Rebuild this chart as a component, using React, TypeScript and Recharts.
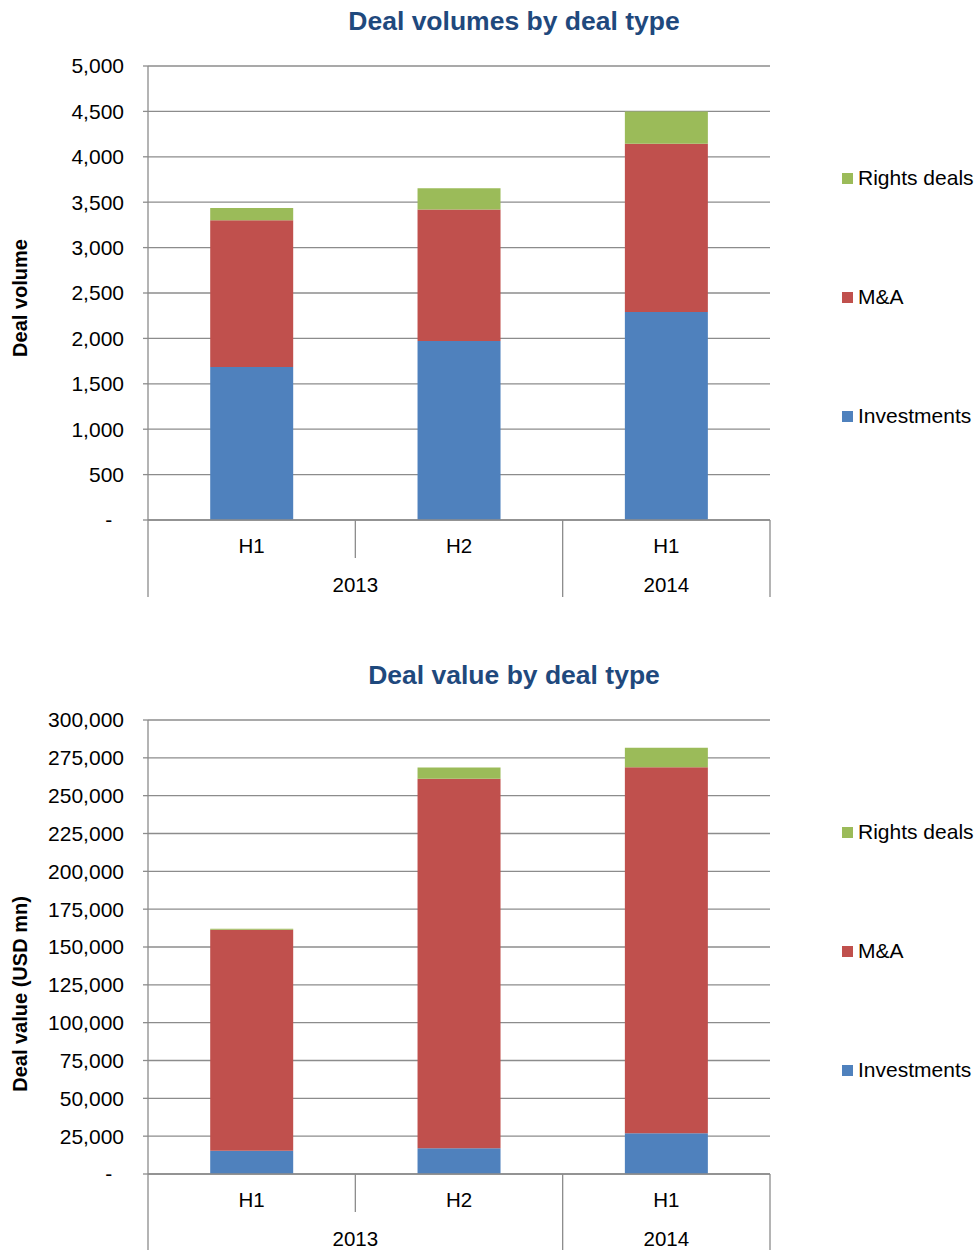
import React from 'react';
import { BarChart, Bar, XAxis, YAxis, CartesianGrid } from 'recharts';

const HALVES = ['H1', 'H2', 'H1'];
const YEARS = ['2013', '2013', '2014'];

const VOL_INVESTMENTS = [1684, 1972, 2291];
const VOL_MA = [1616, 1447, 1853];
const VOL_RIGHTS = [135, 236, 355];

const VAL_INVESTMENTS = [15300, 16950, 26900];
const VAL_MA = [146050, 244270, 241950];
const VAL_RIGHTS = [700, 7430, 12770];

const VOL_TICKS = [0, 500, 1000, 1500, 2000, 2500, 3000, 3500, 4000, 4500, 5000];
const VAL_TICKS = [0, 25000, 50000, 75000, 100000, 125000, 150000, 175000, 200000, 225000, 250000, 275000, 300000];

const SERIES = [
  { key: 'investments', name: 'Investments', color: '#4F81BD' },
  { key: 'ma', name: 'M&A', color: '#C0504D' },
  { key: 'rights', name: 'Rights deals', color: '#9BBB59' },
];

const FONT = '"Liberation Sans", Arial, sans-serif';
const GRID = '#8c8c8c';

// chart geometry (same for both charts)
const W = 979;
const H = 600;
const Y_AXIS_W = 148;
const RIGHT = 209;
const TOP = 66;
const X_AXIS_H = 77;
const PLOT_W = W - Y_AXIS_W - RIGHT;
const AXIS_Y = H - 3 - X_AXIS_H;

const buildRows = (inv: number[], ma: number[], rights: number[]) =>
  HALVES.map((h, i) => ({
    key: `${YEARS[i]}-${h}`,
    investments: inv[i],
    ma: ma[i],
    rights: rights[i],
  }));

const volumeRows = buildRows(VOL_INVESTMENTS, VOL_MA, VOL_RIGHTS);
const valueRows = buildRows(VAL_INVESTMENTS, VAL_MA, VAL_RIGHTS);

// excel accounting style: zero shown as a dash
const fmt = (v: number) => (v === 0 ? '-\u00A0\u00A0' : v.toLocaleString('en-US'));

const CategoryTick = (props: any) => {
  const { x, index } = props;
  const band = PLOT_W / HALVES.length;
  const left = x - band / 2;
  const newGroup = index === 0 || YEARS[index] !== YEARS[index - 1];
  const count = YEARS.filter((y) => y === YEARS[index]).length;
  const last = index === HALVES.length - 1;
  return (
    <g>
      <line x1={left} x2={left} y1={AXIS_Y} y2={AXIS_Y + (newGroup ? 77 : 38)} stroke={GRID} strokeWidth={1.3} />
      {last && <line x1={left + band} x2={left + band} y1={AXIS_Y} y2={AXIS_Y + 77} stroke={GRID} strokeWidth={1.3} />}
      <text x={x} y={AXIS_Y + 25} textAnchor="middle" dominantBaseline="central" fontSize={20.5} fontFamily={FONT} fill="#000">
        {HALVES[index]}
      </text>
      {newGroup && (
        <text x={left + (count * band) / 2} y={AXIS_Y + 64} textAnchor="middle" dominantBaseline="central" fontSize={20.5} fontFamily={FONT} fill="#000">
          {YEARS[index]}
        </text>
      )}
    </g>
  );
};

const StackedChart = ({ rows, ticks, title, yLabel, labelY, top }: any) => (
  <div style={{ position: 'absolute', left: 0, top, width: W, height: H }}>
    <div style={{ position: 'absolute', left: 214, top: 5, width: 600, textAlign: 'center', fontFamily: FONT, fontWeight: 'bold', fontSize: 26.5, color: '#1F497D', lineHeight: '32px' }}>
      {title}
    </div>
    <div style={{ position: 'absolute', left: 20, top: labelY, width: 0, height: 0 }}>
      <div style={{ position: 'absolute', transform: 'translate(-50%, -50%) rotate(-90deg)', whiteSpace: 'nowrap', fontFamily: FONT, fontWeight: 'bold', fontSize: 20 }}>
        {yLabel}
      </div>
    </div>
    <BarChart width={W} height={H} data={rows} margin={{ top: TOP, right: RIGHT, left: 0, bottom: 3 }} barCategoryGap="30%">
      <CartesianGrid vertical={false} stroke={GRID} strokeWidth={1.3} />
      <XAxis dataKey="key" height={X_AXIS_H} interval={0} tick={<CategoryTick />} tickLine={false} axisLine={{ stroke: GRID, strokeWidth: 1.3 }} />
      <YAxis
        width={Y_AXIS_W}
        domain={[0, ticks[ticks.length - 1]]}
        ticks={ticks}
        interval={0}
        tickFormatter={fmt}
        tickSize={5}
        tickMargin={19}
        tickLine={{ stroke: GRID, strokeWidth: 1.3 }}
        axisLine={{ stroke: GRID, strokeWidth: 1.3 }}
        tick={{ fill: '#000', fontSize: 21, fontFamily: FONT }}
      />
      {SERIES.map((s) => (
        <Bar key={s.key} dataKey={s.key} name={s.name} stackId="a" fill={s.color} isAnimationActive={false} />
      ))}
    </BarChart>
    {[...SERIES].reverse().map((s, i) => (
      <div key={s.key} style={{ position: 'absolute', left: 842, top: 178 + i * 119 - 12, height: 24, display: 'flex', alignItems: 'center', fontFamily: FONT, fontSize: 21, whiteSpace: 'nowrap' }}>
        <span style={{ display: 'inline-block', width: 11, height: 11, background: s.color, marginRight: 5 }} />
        {s.name}
      </div>
    ))}
  </div>
);

const App: React.FC = () => {
  return (
    <div style={{ position: 'absolute', left: 0, top: 0, width: W, height: 1250, overflow: 'hidden', background: '#fff' }}>
      <StackedChart rows={volumeRows} ticks={VOL_TICKS} title="Deal volumes by deal type" yLabel="Deal volume" labelY={298} top={0} />
      <StackedChart rows={valueRows} ticks={VAL_TICKS} title="Deal value by deal type" yLabel="Deal value (USD mn)" labelY={340} top={654} />
    </div>
  );
};

export default App;
